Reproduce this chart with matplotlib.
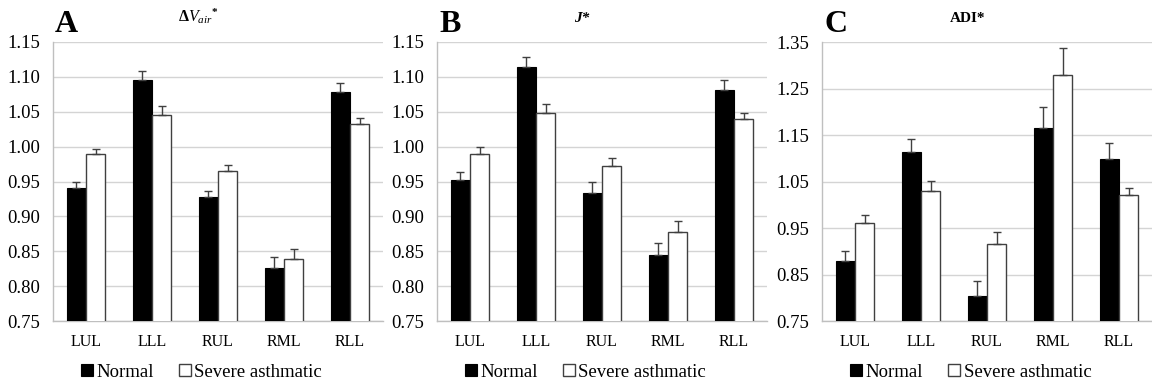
import numpy as np
import matplotlib.pyplot as plt

lobes = ["LUL", "LLL", "RUL", "RML", "RLL"]

# panel A: delta V_air*
dvair_normal = [0.940, 1.095, 0.928, 0.826, 1.078]
dvair_normal_err = [0.009, 0.013, 0.009, 0.016, 0.013]
dvair_severe = [0.990, 1.046, 0.965, 0.839, 1.032]
dvair_severe_err = [0.007, 0.012, 0.008, 0.014, 0.009]

# panel B: J*
j_normal = [0.952, 1.114, 0.934, 0.845, 1.081]
j_normal_err = [0.011, 0.015, 0.015, 0.017, 0.015]
j_severe = [0.990, 1.048, 0.972, 0.877, 1.039]
j_severe_err = [0.009, 0.013, 0.011, 0.016, 0.009]

# panel C: ADI*
adi_normal = [0.878, 1.114, 0.804, 1.164, 1.098]
adi_normal_err = [0.022, 0.027, 0.032, 0.047, 0.034]
adi_severe = [0.961, 1.029, 0.916, 1.279, 1.020]
adi_severe_err = [0.016, 0.023, 0.025, 0.058, 0.017]

panels = [
    ("A", r"$\mathbf{\Delta}\boldsymbol{V_{air}}^{\boldsymbol{*}}$",
     dvair_normal, dvair_normal_err, dvair_severe, dvair_severe_err,
     (0.75, 1.15), np.arange(0.75, 1.151, 0.05)),
    ("B", "J*", j_normal, j_normal_err, j_severe, j_severe_err,
     (0.75, 1.15), np.arange(0.75, 1.151, 0.05)),
    ("C", "ADI*", adi_normal, adi_normal_err, adi_severe, adi_severe_err,
     (0.75, 1.35), np.arange(0.75, 1.351, 0.10)),
]

plt.rcParams['font.family'] = ['Liberation Serif', 'DejaVu Serif']
plt.rcParams['mathtext.fontset'] = 'custom'
plt.rcParams['mathtext.rm'] = 'Liberation Serif'
plt.rcParams['mathtext.it'] = 'Liberation Serif:italic'
plt.rcParams['mathtext.bf'] = 'Liberation Serif:bold'
plt.rcParams['mathtext.bfit'] = 'Liberation Serif:bold:italic'

fig = plt.figure(figsize=(11.52, 3.85), dpi=100)
lefts = [53, 437, 822]
title_dx = [125, 137, 128]
W, H = 1152, 385
grid_c = "#d4d4d4"
err_c = "#404040"
bw = 0.29

x = np.arange(len(lobes))
for left, tdx, (letter, title, n, ne, s, se, ylim, ticks) in zip(lefts, title_dx, panels):
    ax = fig.add_axes([left / W, 64 / H, 330 / W, 279 / H])
    ax.bar(x - bw / 2, n, bw, color="black", edgecolor="black", lw=0.8,
           yerr=[np.zeros(len(ne)), ne], ecolor=err_c,
           error_kw=dict(elinewidth=1, capsize=3, capthick=1), label="Normal", zorder=3)
    ax.bar(x + bw / 2, s, bw, color="white", edgecolor=err_c, lw=1,
           yerr=[np.zeros(len(se)), se], ecolor=err_c,
           error_kw=dict(elinewidth=1, capsize=3, capthick=1), label="Severe asthmatic", zorder=3)
    ax.set_ylim(*ylim)
    ax.set_xlim(-0.5, len(lobes) - 0.5)
    ax.set_yticks(ticks)
    ax.set_yticklabels([f"{t:.2f}" for t in ticks], fontsize=13.5)
    ax.set_xticks(x)
    ax.set_xticklabels(lobes, fontsize=11.5)
    ax.tick_params(axis='y', length=0, pad=9)
    ax.tick_params(axis='x', length=0, pad=9)
    ax.grid(axis='y', color=grid_c, lw=1, zorder=0)
    ax.set_axisbelow(True)
    for sp in ["top", "right"]:
        ax.spines[sp].set_visible(False)
    for sp in ["left", "bottom"]:
        ax.spines[sp].set_color("#bfbfbf")
        ax.spines[sp].set_linewidth(1)

    fig.text((left + 2) / W, 1 - 32 / H, letter, fontsize=23, fontweight='bold')
    if letter == "A":
        fig.text((left + tdx) / W, 1 - 22 / H, title, fontsize=11.5)
    else:
        fig.text((left + tdx) / W, 1 - 22 / H, title, fontsize=11, fontweight='bold',
                 style='italic' if letter == "B" else 'normal')

    ax.legend(loc='center', bbox_to_anchor=(0.45, -0.183), ncol=2, frameon=False,
              fontsize=13.5, handlelength=0.65, handleheight=0.65, handletextpad=0.2,
              columnspacing=1.3, borderaxespad=0)

fig.savefig("out.png", dpi=100)
